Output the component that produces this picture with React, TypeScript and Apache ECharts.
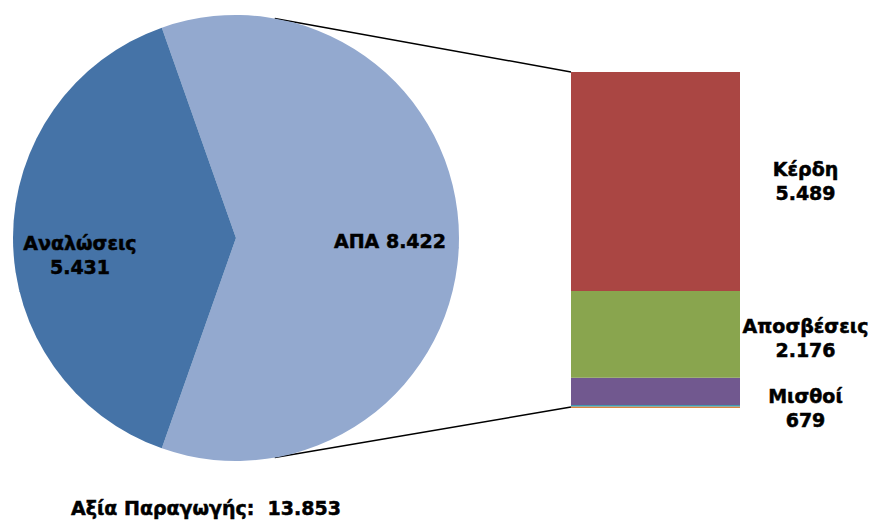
import React, { useEffect, useRef } from "react";
import * as echarts from "echarts";

const pieNames = ["ΑΠΑ", "Αναλώσεις"];
const pieValues = [8422, 5431];
const pieColors = ["#93A9CF", "#4573A7"];

const barNames = ["Άλλα β", "Άλλα α", "Μισθοί", "Αποσβέσεις", "Κέρδη"];
const barValues = [38, 40, 679, 2176, 5489];
const barColors = ["#DB843D", "#4198AF", "#71588F", "#89A54E", "#AA4643"];
const barLabelled = [false, false, true, true, true];

const titleText = "Αξία Παραγωγής:  13.853";

const fmt = (v: number) => v.toLocaleString("de-DE");

export default function App() {
  const ref = useRef<HTMLDivElement>(null);
  useEffect(() => {
    if (!ref.current) return;
    const chart = echarts.init(ref.current, null, { renderer: "svg" });
    const cx = 236;
    const cy = 238;
    const r = 223;
    const total = pieValues.reduce((a, b) => a + b, 0);
    const startAngle = (360 * pieValues[0]) / total / 2;
    const barLeft = 571;
    const barTop = 72;
    const barW = 169;
    const barH = 336;
    const connAngle = (80 * Math.PI) / 180;
    const font = "DejaVu Sans";
    const fs = 19;
    const textBase = {
      fontFamily: font,
      fontSize: fs,
      fontWeight: "bold",
      color: "#000",
      textBorderColor: "#000",
      textBorderWidth: 0.5,
    };

    const labelOffsets: number[][] = [
      [0, 0],
      [0, 0],
      [150, 17],
      [150, 4],
      [150, 0],
    ];

    chart.setOption({
      animation: false,
      title: {
        text: titleText,
        left: 66,
        top: 493,
        textStyle: textBase,
      },
      grid: { left: barLeft, top: barTop, width: barW, height: barH },
      xAxis: { type: "category", data: ["x"], show: false },
      yAxis: { type: "value", min: 0, max: barValues.reduce((a, b) => a + b, 0), show: false },
      series: [
        {
          type: "pie",
          center: [cx, cy],
          radius: r,
          startAngle,
          clockwise: true,
          silent: true,
          itemStyle: { borderWidth: 0 },
          label: {
            show: true,
            position: "inside",
            ...textBase,
            lineHeight: 24,
            formatter: (p: any) =>
              p.dataIndex === 0 ? `${p.name} ${fmt(p.value)}` : `${p.name}\n${fmt(p.value)}`,
          },
          labelLayout: (p: any) =>
            p.dataIndex === 0
              ? { x: cx + 154, y: cy + 3, align: "center", verticalAlign: "middle" }
              : { x: cx - 156, y: cy + 17, align: "center", verticalAlign: "middle" },
          data: pieNames.map((n, i) => ({ name: n, value: pieValues[i], itemStyle: { color: pieColors[i] } })),
        },
        ...barNames.map((n, i) => ({
          type: "bar",
          name: n,
          stack: "s",
          barWidth: "100%",
          silent: true,
          itemStyle: { color: barColors[i] },
          label: {
            show: barLabelled[i],
            position: "inside",
            offset: labelOffsets[i],
            ...textBase,
            lineHeight: 24,
            align: "center",
            formatter: () => `${n}\n${fmt(barValues[i])}`,
          },
          data: [barValues[i]],
        })),
      ],
      graphic: [
        {
          type: "line",
          shape: {
            x1: cx + r * Math.cos(connAngle),
            y1: cy - r * Math.sin(connAngle),
            x2: barLeft,
            y2: barTop,
          },
          style: { stroke: "#000", lineWidth: 1.5 },
        },
        {
          type: "line",
          shape: {
            x1: cx + r * Math.cos(connAngle),
            y1: cy + r * Math.sin(connAngle),
            x2: barLeft,
            y2: barTop + barH - 1,
          },
          style: { stroke: "#000", lineWidth: 1.5 },
        },
      ],
    });
    return () => chart.dispose();
  }, []);
  return (
    <div
      ref={ref}
      style={{ position: "fixed", left: 0, top: 0, width: 873, height: 522, background: "#fff" }}
    />
  );
}
